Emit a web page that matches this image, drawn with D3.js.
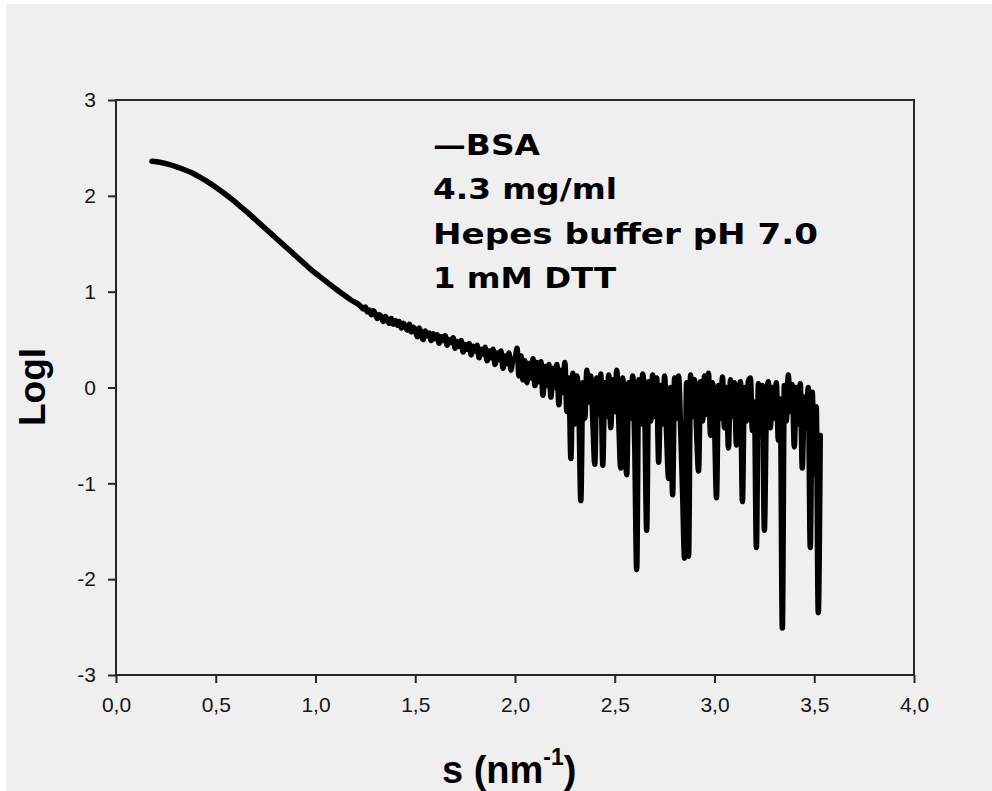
<!DOCTYPE html>
<html>
<head>
<meta charset="utf-8">
<script src="https://cdn.jsdelivr.net/npm/d3@7"></script>
<style>
  html, body { margin: 0; padding: 0; background: #ffffff; }
  #chart { position: absolute; left: 6px; top: 4px; width: 986px; height: 787px; background: #efefef; }
  svg { display: block; }
</style>
</head>
<body>
<div id="chart"></div>
<script>
// Scattering curve: s (nm^-1) and log I
const smoothS = [0.18, 0.22, 0.26, 0.30, 0.34, 0.38, 0.42, 0.46, 0.50, 0.54, 0.58, 0.62, 0.66, 0.70,
  0.74, 0.78, 0.82, 0.86, 0.90, 0.94, 0.98, 1.02, 1.06, 1.10, 1.14, 1.18, 1.22];
const smoothLogI = [2.36, 2.35, 2.33, 2.305, 2.275, 2.24, 2.195, 2.145, 2.09, 2.03, 1.965, 1.895, 1.825, 1.75,
  1.675, 1.60, 1.525, 1.45, 1.375, 1.30, 1.225, 1.16, 1.095, 1.03, 0.97, 0.91, 0.86];

// slightly noisy middle part, every 0.01 from 1.23 to 1.99
const midS = [1.23, 1.24, 1.25, 1.26, 1.27, 1.28, 1.29,
  1.30, 1.31, 1.32, 1.33, 1.34, 1.35, 1.36, 1.37, 1.38, 1.39,
  1.40, 1.41, 1.42, 1.43, 1.44, 1.45, 1.46, 1.47, 1.48, 1.49,
  1.50, 1.51, 1.52, 1.53, 1.54, 1.55, 1.56, 1.57, 1.58, 1.59,
  1.60, 1.61, 1.62, 1.63, 1.64, 1.65, 1.66, 1.67, 1.68, 1.69,
  1.70, 1.71, 1.72, 1.73, 1.74, 1.75, 1.76, 1.77, 1.78, 1.79,
  1.80, 1.81, 1.82, 1.83, 1.84, 1.85, 1.86, 1.87, 1.88, 1.89,
  1.90, 1.91, 1.92, 1.93, 1.94, 1.95, 1.96, 1.97, 1.98, 1.99];
const midLogI = [0.84, 0.82, 0.84, 0.79, 0.81, 0.76, 0.80,
  0.77, 0.72, 0.76, 0.74, 0.69, 0.74, 0.71, 0.67, 0.72, 0.66,
  0.70, 0.65, 0.69, 0.62, 0.67, 0.64, 0.60, 0.66, 0.58, 0.63,
  0.60, 0.53, 0.62, 0.55, 0.50, 0.59, 0.54, 0.57, 0.49, 0.56,
  0.51, 0.55, 0.46, 0.53, 0.49, 0.54, 0.44, 0.50, 0.47, 0.52,
  0.41, 0.48, 0.43, 0.49, 0.37, 0.45, 0.40, 0.46, 0.34, 0.43,
  0.38, 0.44, 0.31, 0.40, 0.35, 0.42, 0.28, 0.38, 0.31, 0.40,
  0.24, 0.36, 0.29, 0.38, 0.20, 0.33, 0.25, 0.36, 0.18, 0.30];

// noisy tail, one value every 0.01 from 2.00 to 3.53
const tailS = [2.00, 2.01, 2.02, 2.03, 2.04, 2.05, 2.06, 2.07, 2.08, 2.09,
  2.10, 2.11, 2.12, 2.13, 2.14, 2.15, 2.16, 2.17, 2.18, 2.19,
  2.20, 2.21, 2.22, 2.23, 2.24, 2.25, 2.26, 2.27, 2.28, 2.29,
  2.30, 2.31, 2.32, 2.33, 2.34, 2.35, 2.36, 2.37, 2.38, 2.39,
  2.40, 2.41, 2.42, 2.43, 2.44, 2.45, 2.46, 2.47, 2.48, 2.49,
  2.50, 2.51, 2.52, 2.53, 2.54, 2.55, 2.56, 2.57, 2.58, 2.59,
  2.60, 2.61, 2.62, 2.63, 2.64, 2.65, 2.66, 2.67, 2.68, 2.69,
  2.70, 2.71, 2.72, 2.73, 2.74, 2.75, 2.76, 2.77, 2.78, 2.79,
  2.80, 2.81, 2.82, 2.83, 2.84, 2.85, 2.86, 2.87, 2.88, 2.89,
  2.90, 2.91, 2.92, 2.93, 2.94, 2.95, 2.96, 2.97, 2.98, 2.99,
  3.00, 3.01, 3.02, 3.03, 3.04, 3.05, 3.06, 3.07, 3.08, 3.09,
  3.10, 3.11, 3.12, 3.13, 3.14, 3.15, 3.16, 3.17, 3.18, 3.19,
  3.20, 3.21, 3.22, 3.23, 3.24, 3.25, 3.26, 3.27, 3.28, 3.29,
  3.30, 3.31, 3.32, 3.33, 3.34, 3.35, 3.36, 3.37, 3.38, 3.39,
  3.40, 3.41, 3.42, 3.43, 3.44, 3.45, 3.46, 3.47, 3.48, 3.49,
  3.50, 3.51, 3.52, 3.53];
const tailLogI = [0.30, 0.41, 0.12, 0.33, 0.08, 0.28, 0.05, 0.25, 0.10, 0.30,
  0.02, 0.26, 0.06, 0.27, -0.08, 0.22, 0.02, 0.24, -0.10, 0.20,
  0.00, 0.24, -0.18, 0.18, -0.05, 0.26, -0.25, 0.10, -0.74, 0.15,
  -0.38, 0.12, -0.20, -1.18, 0.05, -0.32, 0.18, -0.15, 0.12, -0.35,
  -0.80, 0.10, -0.28, 0.14, -0.81, 0.05, -0.30, 0.13, -0.42, 0.08,
  -0.25, 0.18, -0.35, -0.84, 0.10, -0.45, -0.91, 0.05, -0.32, 0.12,
  -0.60, -1.90, 0.08, -0.38, 0.14, -0.22, -1.49, 0.06, -0.35, 0.13,
  -0.30, 0.10, -0.78, 0.02, -0.38, 0.12, -0.50, -0.95, 0.00, -1.12,
  0.10, -0.32, 0.12, -0.42, -1.10, -1.78, 0.05, -1.76, 0.13, -0.30,
  0.08, -0.45, -0.87, 0.06, -0.35, 0.12, -0.28, 0.15, -0.50, 0.05,
  -0.38, -1.15, 0.02, -0.32, 0.11, -0.42, 0.00, -0.63, 0.08, -0.30,
  0.05, -0.60, -0.22, 0.06, -1.19, 0.00, -0.35, 0.07, 0.10, -0.45,
  -0.15, -1.67, 0.04, -0.38, 0.02, -1.49, -0.25, 0.06, -0.42, 0.00,
  -0.32, 0.05, -0.55, -0.12, -2.51, 0.02, -0.35, 0.13, -0.25, 0.03,
  -0.62, 0.00, -0.38, 0.04, -0.84, -0.10, -0.42, 0.00, -1.67, -0.05,
  -0.90, -0.20, -2.35, -0.50];

const xTicks = [0, 0.5, 1.0, 1.5, 2.0, 2.5, 3.0, 3.5, 4.0];
const yTicks = [3, 2, 1, 0, -1, -2, -3];
const legendLines = ['\u2014BSA', '4.3 mg/ml', 'Hepes buffer pH 7.0', '1 mM DTT'];
const legendWidths = [107, 184, 385, 183];

const width = 986, height = 787;
// plot frame in page coords minus the container offset (6, 4)
const margin = { left: 110, top: 96, right: 986 - 908, bottom: 787 - 671 };

const svg = d3.select('#chart')
  .append('svg')
  .attr('width', width)
  .attr('height', height);

const x = d3.scaleLinear().domain([0, 4]).range([margin.left, width - margin.right]);
const y = d3.scaleLinear().domain([-3, 3]).range([height - margin.bottom, margin.top]);

const points = []
  .concat(smoothS.map((s, i) => [s, smoothLogI[i]]))
  .concat(midS.map((s, i) => [s, midLogI[i]]))
  .concat(tailS.map((s, i) => [s, tailLogI[i]]));

// Axes
const axisColor = '#262626';
const fmtX = d => d3.format('.1f')(d).replace('.', ',');

const xAxis = svg.append('g')
  .attr('transform', `translate(0,${y(-3)})`)
  .call(d3.axisBottom(x).tickValues(xTicks).tickFormat(fmtX).tickSize(8).tickPadding(14));

const yAxis = svg.append('g')
  .attr('transform', `translate(${x(0)},0)`)
  .call(d3.axisLeft(y).tickValues(yTicks).tickFormat(d => String(d)).tickSize(8).tickPadding(12));

[xAxis, yAxis].forEach(g => {
  g.select('.domain').remove();
  g.selectAll('.tick line').attr('stroke', axisColor).attr('stroke-width', 2);
  g.selectAll('.tick text')
    .attr('fill', '#151515')
    .style('font-family', '"Liberation Sans", Arial, sans-serif')
    .style('font-size', '21px');
});

// frame
svg.append('rect')
  .attr('x', x(0))
  .attr('y', y(3))
  .attr('width', x(4) - x(0))
  .attr('height', y(-3) - y(3))
  .attr('fill', 'none')
  .attr('stroke', axisColor)
  .attr('stroke-width', 2);

// Curve - monotone so the spikes don't overshoot
const line = d3.line()
  .curve(d3.curveMonotoneX)
  .x(d => x(d[0]))
  .y(d => y(d[1]));

svg.append('path')
  .datum(points)
  .attr('d', line)
  .attr('fill', 'none')
  .attr('stroke', '#000')
  .attr('stroke-width', 5.5)
  .attr('stroke-linejoin', 'round')
  .attr('stroke-linecap', 'round');

// Legend / annotation
const legend = svg.append('g')
  .style('font-family', '"DejaVu Sans", sans-serif')
  .style('font-weight', 'bold')
  .style('font-size', '29px')
  .attr('fill', '#000');

legend.selectAll('text')
  .data(legendLines)
  .enter()
  .append('text')
  .attr('x', 427)
  .attr('y', (d, i) => 151 + i * 44.3)
  .attr('textLength', (d, i) => legendWidths[i])
  .attr('lengthAdjust', 'spacingAndGlyphs')
  .text(d => d);

// Axis titles
svg.append('text')
  .attr('transform', `translate(39,${383}) rotate(-90)`)
  .attr('text-anchor', 'middle')
  .style('font-family', '"Liberation Sans", Arial, sans-serif')
  .style('font-weight', 'bold')
  .style('font-size', '37px')
  .attr('fill', '#000')
  .text('LogI');

const xTitle = svg.append('text')
  .attr('x', 436)
  .attr('y', 779)
  .style('font-family', '"Liberation Sans", Arial, sans-serif')
  .style('font-weight', 'bold')
  .style('font-size', '38px')
  .attr('fill', '#000');

xTitle.append('tspan').text('s (nm');
xTitle.append('tspan')
  .attr('dy', -18)
  .style('font-size', '23px')
  .text('-1');
xTitle.append('tspan')
  .attr('dy', 18)
  .text(')');
</script>
</body>
</html>
